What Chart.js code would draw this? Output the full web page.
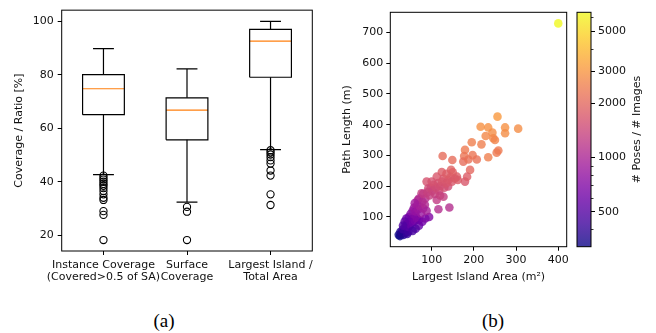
<!DOCTYPE html>
<html lang="en">
<head>
<meta charset="UTF-8">
<title>Coverage / path length</title>
<script src="https://cdn.jsdelivr.net/npm/chart.js"></script>
<style>
  body { margin: 0; background: #fff; }
  #wrap { position: relative; width: 656px; height: 333px; overflow: hidden; }
  canvas { position: absolute; top: 0; }
  .cap { position: absolute; top: 309px; width: 60px; line-height: 24px; text-align: center;
         font-family: "Liberation Serif", "DejaVu Serif", serif; font-size: 19px; color: #000; }
</style>
</head>
<body>
<div id="wrap">
  <canvas id="boxChart" width="330" height="300" style="left:0"></canvas>
  <canvas id="scatterChart" width="250" height="300" style="left:330px"></canvas>
  <canvas id="cbarChart" width="96" height="300" style="left:560px"></canvas>
  <div class="cap" style="left:134px">(a)</div>
  <div class="cap" style="left:463px">(b)</div>
</div>
<script>
// ---- (a) box plot values ----
const boxLabels = [['Instance Coverage', '(Covered>0.5 of SA)'], ['Surface', 'Coverage'], ['Largest Island /', 'Total Area']];
const boxPos = [1, 2, 3];
const q1 = [65.1, 55.7, 79.1];
const q3 = [80.1, 71.4, 97.0];
const medians = [74.8, 66.8, 92.6];
const whiskLo = [42.7, 32.4, 52.0];
const whiskHi = [89.8, 82.2, 100];
const outliers = [
  [42.3, 41.5, 40.8, 40.0, 39.2, 38.5, 37.6, 36.5, 35.3, 34.0, 33.2, 29.0, 27.6, 18.2],
  [30.6, 28.8, 18.2],
  [51.8, 51.0, 50.2, 49.2, 48.0, 46.8, 44.2, 42.3, 35.3, 31.3]
];
const yTicksA = [20, 40, 60, 80, 100];

// ---- (b) scatter values ----
const islandArea = [400, 256, 216, 234, 274, 305, 244, 228, 246, 274, 250, 195, 218, 179, 258, 254, 177, 197, 126, 234,
  207, 149, 175, 187, 191, 146, 179, 184, 124, 112, 160, 88, 139, 92, 128, 116, 142, 94, 76, 67,
  22, 25, 28, 30, 33, 35, 38, 40, 26, 42, 45, 32,
  38, 42, 45, 48, 50, 52, 55, 58, 60, 46, 50, 62, 65, 70, 40, 36, 32, 70, 62, 55, 78, 85,
  55, 58, 62, 66, 68, 72, 75, 78, 80, 84, 70, 60, 88, 85,
  80, 90, 95, 98, 102, 105, 108, 110, 115, 118, 120, 125, 130, 128, 135, 140, 145, 148, 100, 112, 120, 150, 135, 155, 162];
const pathLength = [729, 426, 393, 391, 391, 387, 374, 363, 356, 372, 350, 343, 336, 318, 316, 309, 298, 301, 298, 294,
  287, 285, 280, 287, 253, 253, 215, 231, 246, 231, 231, 215, 199, 193, 166, 125, 131, 100, 177, 155,
  42, 38, 45, 50, 42, 55, 48, 60, 52, 45, 52, 60,
  70, 78, 68, 85, 75, 92, 82, 98, 88, 100, 110, 105, 95, 90, 95, 85, 72, 72, 62, 55, 85, 95,
  120, 130, 118, 140, 125, 135, 112, 150, 128, 140, 160, 145, 120, 160,
  175, 180, 170, 195, 185, 205, 175, 195, 210, 185, 200, 215, 195, 225, 210, 220, 230, 215, 215, 155, 170, 245, 240, 225, 220];
const poseCount = [6400, 3100, 2900, 2900, 2900, 2800, 2800, 2700, 2700, 2800, 2600, 2500, 2500, 2400, 2400, 2400, 2300, 2300, 2100, 2500,
  2200, 2100, 2100, 2200, 2000, 1900, 1700, 1800, 1800, 1700, 1800, 1600, 1500, 1500, 1300, 1100, 1100, 700, 1300, 1100,
  330, 320, 350, 370, 360, 400, 390, 420, 360, 400, 430, 420,
  480, 520, 500, 560, 560, 620, 600, 680, 650, 640, 700, 720, 700, 700, 600, 540, 480, 560, 500, 450, 620, 680,
  780, 850, 820, 920, 880, 950, 850, 1000, 950, 1050, 1050, 900, 950, 1100,
  1250, 1350, 1300, 1450, 1400, 1550, 1350, 1500, 1600, 1450, 1550, 1650, 1550, 1700, 1650, 1700, 1750, 1700, 1600, 1250, 1350, 1850, 1800, 1750, 1750];
const xTicksB = [100, 200, 300, 400];
const yTicksB = [100, 200, 300, 400, 500, 600, 700];
const cbarMajor = [500, 1000, 2000, 3000, 5000];
const cbarMinor = [400, 600, 700, 800, 900, 4000, 6000];

const plasma = ['#0d0887', '#46039f', '#7201a8', '#9c179e', '#bd3786', '#d8576b', '#ed7953', '#fb9f3a', '#fdca26', '#f0f921'];
const ALPHA = 0.8;
const FONT = { family: 'DejaVu Sans', size: 11, lineHeight: 1.12 };
const INK = '#111';

function hexRgb(h) { return [1, 3, 5].map(i => parseInt(h.slice(i, i + 2), 16)); }
function plasmaAt(t) {
  t = Math.max(0, Math.min(1, t)) * (plasma.length - 1);
  const i = Math.min(Math.floor(t), plasma.length - 2), f = t - i;
  const a = hexRgb(plasma[i]), b = hexRgb(plasma[i + 1]);
  const c = a.map((v, k) => Math.round(v + (b[k] - v) * f));
  return `rgba(${c[0]},${c[1]},${c[2]},${ALPHA})`;
}
const cMin = Math.min(...poseCount), cMax = Math.max(...poseCount);
const norm = v => (Math.log(v) - Math.log(cMin)) / (Math.log(cMax) - Math.log(cMin));

Chart.defaults.font.family = FONT.family;
Chart.defaults.color = INK;

const frame = {
  id: 'frame',
  afterDatasetsDraw(chart) {
    const { ctx, chartArea: a } = chart;
    ctx.save();
    ctx.strokeStyle = '#000';
    ctx.lineWidth = 1;
    ctx.strokeRect(a.left, a.top, a.right - a.left, a.bottom - a.top);
    ctx.restore();
  }
};

function fixTicks(list) { return s => { s.ticks = list.map(v => ({ value: v })); }; }
const tickGrid = { drawOnChartArea: false, color: '#000', tickLength: 4, lineWidth: 1 };

// ---------- (a) ----------
const lineDs = (pts, color) => ({ data: pts, showLine: true, borderColor: color, borderWidth: 1.2, pointRadius: 0, fill: false });
const boxSets = [];
boxPos.forEach((p, i) => {
  const w = 0.25, c = 0.125;
  boxSets.push(lineDs([{ x: p - w, y: q1[i] }, { x: p + w, y: q1[i] }, { x: p + w, y: q3[i] }, { x: p - w, y: q3[i] }, { x: p - w, y: q1[i] }], '#000'));
  boxSets.push(lineDs([{ x: p, y: q1[i] }, { x: p, y: whiskLo[i] }], '#000'));
  boxSets.push(lineDs([{ x: p, y: q3[i] }, { x: p, y: whiskHi[i] }], '#000'));
  boxSets.push(lineDs([{ x: p - c, y: whiskLo[i] }, { x: p + c, y: whiskLo[i] }], '#000'));
  boxSets.push(lineDs([{ x: p - c, y: whiskHi[i] }, { x: p + c, y: whiskHi[i] }], '#000'));
  boxSets.push(lineDs([{ x: p - w, y: medians[i] }, { x: p + w, y: medians[i] }], '#ff7f0e'));
  boxSets.push({
    data: outliers[i].map(v => ({ x: p, y: v })), showLine: false,
    pointRadius: 3.6, pointBorderWidth: 1.1, pointBorderColor: '#000', pointBackgroundColor: 'rgba(0,0,0,0)'
  });
});

new Chart(document.getElementById('boxChart'), {
  type: 'scatter',
  data: { datasets: boxSets },
  options: {
    responsive: false, animation: false, devicePixelRatio: 1, events: [],
    layout: { padding: { left: 0, top: 10, right: 17.7, bottom: 0 } },
    plugins: { legend: { display: false }, tooltip: { enabled: false } },
    scales: {
      x: {
        type: 'linear', min: 0.5, max: 3.5,
        afterBuildTicks: fixTicks(boxPos),
        afterFit: s => { s.height = 49; },
        grid: tickGrid, border: { display: false },
        ticks: { font: FONT, padding: 4, autoSkip: false, maxRotation: 0, minRotation: 0,
                 callback: v => boxLabels[boxPos.indexOf(v)] }
      },
      y: {
        min: 14.1, max: 104.2,
        afterBuildTicks: fixTicks(yTicksA),
        afterFit: s => { s.width = 61.7; },
        grid: tickGrid, border: { display: false },
        ticks: { font: FONT, padding: 4 },
        title: { display: true, text: 'Coverage / Ratio [%]', font: FONT, padding: { top: 12.8, bottom: 0 } }
      }
    }
  },
  plugins: [frame]
});

// ---------- (b) ----------
new Chart(document.getElementById('scatterChart'), {
  type: 'scatter',
  data: {
    datasets: [{
      data: islandArea.map((x, i) => ({ x, y: pathLength[i] })),
      backgroundColor: poseCount.map(v => plasmaAt(norm(v))),
      borderWidth: 0, pointRadius: 4.3
    }]
  },
  options: {
    responsive: false, animation: false, devicePixelRatio: 1, events: [],
    layout: { padding: { left: 0, top: 12.3, right: 13.3, bottom: 0 } },
    plugins: { legend: { display: false }, tooltip: { enabled: false } },
    scales: {
      x: {
        type: 'linear', min: 2, max: 420,
        afterBuildTicks: fixTicks(xTicksB),
        afterFit: s => { s.height = 53.3; },
        grid: tickGrid, border: { display: false },
        ticks: { font: FONT, padding: 3.5, maxRotation: 0 },
        title: { display: true, text: 'Largest Island Area (m²)', font: FONT, padding: { top: 0, bottom: 17.1 } }
      },
      y: {
        min: 3.5, max: 765,
        afterBuildTicks: fixTicks(yTicksB),
        afterFit: s => { s.width = 60.3; },
        grid: tickGrid, border: { display: false },
        ticks: { font: FONT, padding: 3 },
        title: { display: true, text: 'Path Length (m)', font: FONT, padding: { top: 11.1, bottom: 0 } }
      }
    }
  },
  plugins: [frame]
});

// ---------- colorbar ----------
const cbarExtras = {
  id: 'cbarExtras',
  afterDraw(chart) {
    const { ctx, chartArea: a, scales: { y } } = chart;
    ctx.save();
    ctx.strokeStyle = '#000';
    ctx.lineWidth = 0.8;
    cbarMinor.forEach(v => {
      const py = Math.round(y.getPixelForValue(v)) + 0.5;
      ctx.beginPath(); ctx.moveTo(a.right, py); ctx.lineTo(a.right + 2.5, py); ctx.stroke();
    });
    ctx.translate(76.7, (a.top + a.bottom) / 2);
    ctx.rotate(-Math.PI / 2);
    ctx.fillStyle = INK;
    ctx.font = `${FONT.size}px "${FONT.family}"`;
    ctx.textAlign = 'center';
    ctx.textBaseline = 'middle';
    ctx.fillText('# Poses / # Images', 0, 0);
    ctx.restore();
  }
};

new Chart(document.getElementById('cbarChart'), {
  type: 'bar',
  data: {
    labels: ['c'],
    datasets: [{
      data: [[cMin, cMax]],
      barPercentage: 1, categoryPercentage: 1, borderWidth: 0,
      backgroundColor: ctx => {
        const a = ctx.chart.chartArea;
        if (!a) return null;
        const g = ctx.chart.ctx.createLinearGradient(0, a.bottom, 0, a.top);
        for (let k = 0; k <= 20; k++) g.addColorStop(k / 20, plasmaAt(k / 20));
        return g;
      }
    }]
  },
  options: {
    responsive: false, animation: false, devicePixelRatio: 1, events: [],
    layout: { padding: { left: 17, top: 12.3, right: 0, bottom: 53.3 } },
    plugins: { legend: { display: false }, tooltip: { enabled: false } },
    scales: {
      x: { display: false },
      y: {
        type: 'logarithmic', position: 'right', min: cMin, max: cMax,
        afterBuildTicks: fixTicks(cbarMajor),
        afterFit: s => { s.width = 65; },
        grid: tickGrid, border: { display: false },
        ticks: { font: FONT, padding: 3, callback: v => String(v) }
      }
    }
  },
  plugins: [frame, cbarExtras]
});
</script>
</body>
</html>
